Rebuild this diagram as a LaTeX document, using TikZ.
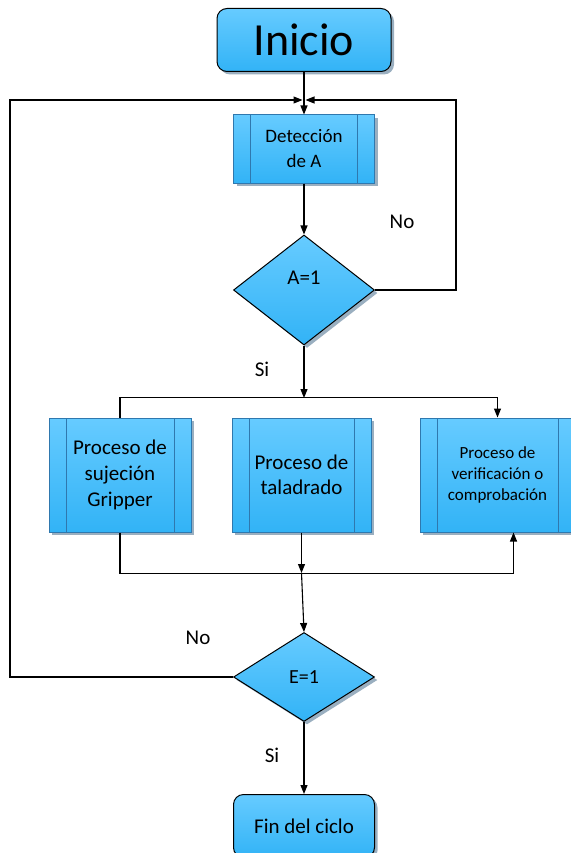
\documentclass[tikz,border=0pt]{standalone}
\usepackage{fontspec}
\setmainfont{Carlito}
\usetikzlibrary{shapes.geometric,shadows,arrows.meta}

\definecolor{celesteA}{HTML}{66CBFF}
\definecolor{celesteB}{HTML}{32B3F6}
\definecolor{bordeazul}{HTML}{2F78AE}
\definecolor{sombra}{HTML}{9AAFC0}

\begin{document}
\begin{tikzpicture}[x=1pt, y=-1pt,
	relleno/.style={top color=celesteA, bottom color=celesteB,
		drop shadow={shadow xshift=3pt, shadow yshift=-3pt, fill=sombra, opacity=1}},
	terminal/.style={relleno, draw=black, line width=1pt, rounded corners=10pt,
		minimum width=#1, minimum height=63pt, inner sep=0pt},
	proceso/.style={relleno, draw=bordeazul, line width=1pt, align=center,
		minimum height=114pt, inner sep=0pt,
		path picture={\draw[bordeazul, line width=1pt]
			([xshift=17pt]path picture bounding box.north west) -- ([xshift=17pt]path picture bounding box.south west)
			([xshift=-17pt]path picture bounding box.north east) -- ([xshift=-17pt]path picture bounding box.south east);}},
	decision/.style={relleno, diamond, draw=black, line width=1pt,
		minimum width=141pt, inner sep=0pt},
	flecha/.style={-{Triangle[length=9pt,width=7pt]}},
	linea/.style={draw=black, line width=1.1pt}]

	\useasboundingbox (0,0) rectangle (570,853);

	% nodos
	\node[terminal=174pt, font=\fontsize{46}{50}\selectfont] (inicio) at (304,40) {Inicio};
	\node[proceso, minimum width=141pt, minimum height=68pt, font=\fontsize{19}{25}\selectfont] (deteccion) at (304,149) {Detección\\de A};
	\node[decision, minimum height=110pt, label={[yshift=12pt, font=\fontsize{21}{25}\selectfont]center:A=1}] (a1) at (304,290) {};

	\node[proceso, minimum width=142pt, font=\fontsize{21}{26}\selectfont] (gripper) at (120,475) {Proceso de\\sujeción\\Gripper};
	\node[proceso, minimum width=139pt, font=\fontsize{21}{25}\selectfont] (taladrado) at (301.5,475) {Proceso de\\taladrado};
	\node[proceso, minimum width=155pt, font=\fontsize{17}{21}\selectfont] (verif) at (497.5,475) {Proceso de\\verificación o\\comprobación};

	\node[decision, minimum height=89pt, font=\fontsize{20}{24}\selectfont] (e1) at (304,677) {E=1};
	\node[terminal=141pt, font=\fontsize{21}{25}\selectfont] (fin) at (304,826) {Fin del ciclo};

	% etiquetas
	\node[font=\fontsize{21}{25}\selectfont] (noA) at (402,222) {No};
	\node[font=\fontsize{21}{25}\selectfont] (siA) at (262,369) {Si};
	\node[font=\fontsize{21}{25}\selectfont] (noE) at (198,638) {No};
	\node[font=\fontsize{21}{25}\selectfont] (siE) at (272,755) {Si};

	% puntos de union
	\coordinate (mergeL) at (302.5,100);
	\coordinate (mergeR) at (305.5,100);
	\coordinate (retA) at (456,100);
	\coordinate (retE) at (10,100);
	\coordinate (split) at (304,398);
	\coordinate (join) at (301.5,573);

	% conectores
	\draw[linea, flecha] (inicio) -- (deteccion);
	\draw[linea, flecha] (deteccion) -- (a1);
	\draw[linea, flecha] (a1.east) -| (retA) -- (mergeR);
	\draw[linea, flecha] (e1.west) -| (retE) -- (mergeL);
	\draw[linea, flecha] (a1.south) -- (split);
	\draw[linea, flecha] (gripper.north) -- ++(0,-20) -| (verif.north);
	\draw[linea, flecha] (gripper.south) -- ++(0,41) -| ([xshift=16pt]verif.south);
	\draw[linea, flecha] (taladrado.south) -- (join);
	\draw[linea, flecha] (join) -- (e1.north);
	\draw[linea, flecha] (e1.south) -- (fin.north);
\end{tikzpicture}
\end{document}
